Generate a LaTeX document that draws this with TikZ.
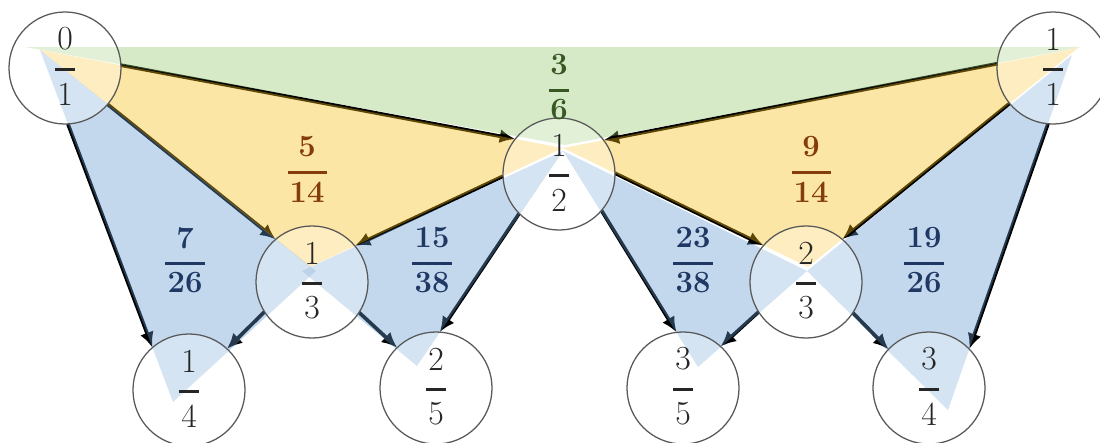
\documentclass[tikz,border=0pt]{standalone}
\usepackage{fontspec}
\usetikzlibrary{arrows.meta,intersections}
\definecolor{cBlueL}{HTML}{1F3864}
\definecolor{cBrown}{HTML}{843C0C}
\definecolor{cGrn}{HTML}{385723}
\definecolor{fBlue}{rgb}{0.39,0.60,0.82}
\definecolor{fYel}{rgb}{0.97,0.74,0.08}
\definecolor{fGrn}{rgb}{0.58,0.79,0.42}
\pgfdeclarelayer{arrlayer}
\pgfdeclarelayer{trilayer}
\pgfsetlayers{arrlayer,trilayer,main}
\tikzset{
  vert/.style={circle, minimum size=2.8cm, inner sep=0pt, draw=black!65, line width=0.9pt,
    fill=white, fill opacity=0.3, draw opacity=1},
  arr/.style={line width=2.6pt, black, -{Latex[length=11pt,width=10pt]}},
  ntext/.style={font=\fontsize{24}{28}\selectfont, text=black!85, inner sep=0pt},
  ltext/.style={font=\bfseries\fontsize{22}{26}\selectfont, inner sep=0pt},
  tri/.style={fill opacity=0.38},
  pics/nfr/.style n args={2}{code={
    \node[ntext] (-n) at (0,-29) {#1};
    \fill[black!85] (-10,-0.5) rectangle (10,2.5);
    \node[ntext] (-d) at (0,26) {#2};
  }},
  pics/lfr/.style n args={3}{code={
    \node[ltext] (-n) at (0,-25) {#1};
    \fill (-#3,-1.5) rectangle (#3,1.5);
    \node[ltext] (-d) at (0,20) {#2};
  }}
}
\newcommand\edgearr[4]{%
  \path[name path=tmpln] (#2) -- (#4);
  \draw[arr, name intersections={of=c#1 and tmpln, by=es}, name intersections={of=c#3 and tmpln, by=ee}] (es) -- (ee);}
\begin{document}
\begin{tikzpicture}[x=0.025cm,y=-0.025cm]
\useasboundingbox (0,0) rectangle (1100,442);
% nodes
\node[vert] (n01) at (65,68) {};
\node[vert] (n11) at (1053,68) {};
\node[vert] (n12) at (559,174) {};
\node[vert] (n13) at (312,282) {};
\node[vert] (n23) at (806,282) {};
\node[vert] (n14) at (189,390) {};
\node[vert] (n25) at (436,388) {};
\node[vert] (n35) at (683,388) {};
\node[vert] (n34) at (929,388) {};
\foreach \n in {01,11,12,13,23,14,25,35,34}
  \path[name path global=c\n] (n\n.center) circle[radius=1.4cm];
% node texts
\pic (t01) at (n01) {nfr={0}{1}};
\pic (t11) at (n11) {nfr={1}{1}};
\pic (t12) at (n12) {nfr={1}{2}};
\pic (t13) at (n13) {nfr={1}{3}};
\pic (t23) at (n23) {nfr={2}{3}};
\pic (t14) at (n14) {nfr={1}{4}};
\pic (t25) at (n25) {nfr={2}{5}};
\pic (t35) at (n35) {nfr={3}{5}};
\pic (t34) at (n34) {nfr={3}{4}};
% labels
\pic[color=cGrn] (l36) at (559,90) {lfr={3}{6}{10}};
\pic[color=cBrown] (l514) at (307,172) {lfr={5}{14}{19.5}};
\pic[color=cBrown] (l914) at (811,172) {lfr={9}{14}{19.5}};
\pic[color=cBlueL] (l726) at (185,263) {lfr={7}{26}{20}};
\pic[color=cBlueL] (l1538) at (432,263) {lfr={15}{38}{20}};
\pic[color=cBlueL] (l2338) at (693,263) {lfr={23}{38}{20}};
\pic[color=cBlueL] (l1926) at (924,263) {lfr={19}{26}{20}};
% vertex points
\coordinate (v0) at (40,50);
\coordinate (g0) at (25,47);
\coordinate (g1) at (1082,47);
\coordinate (g12) at (565,145);
\coordinate (v1) at (1078,48);
\coordinate (v1b) at (1072,55);
\coordinate (v12) at (563,148);
\coordinate (v12b) at (563,151);
\coordinate (v13) at (310,267);
\coordinate (v13l) at (316,271);
\coordinate (v13r) at (302,271);
\coordinate (v23) at (808,267);
\coordinate (v23b) at (807,271);
\coordinate (v14) at (173,402);
\coordinate (v25) at (417,366);
\coordinate (v35) at (698,367);
\coordinate (v34) at (948,410);
% triangles
\begin{pgfonlayer}{trilayer}
\fill[tri, fGrn] (g0) -- (g1) -- (g12) -- cycle;
\fill[tri, fYel] (v0) -- (v12) -- (v13) -- cycle;
\fill[tri, fYel] (v1) -- (v12) -- (v23) -- cycle;
\fill[tri, fBlue] (v0) -- (v13l) -- (v14) -- cycle;
\fill[tri, fBlue] (v12b) -- (v13r) -- (v25) -- cycle;
\fill[tri, fBlue] (v12b) -- (v23b) -- (v35) -- cycle;
\fill[tri, fBlue] (v1b) -- (v23b) -- (v34) -- cycle;
\end{pgfonlayer}
% arrows
\begin{pgfonlayer}{arrlayer}
\edgearr{01}{v0}{12}{v12}
\edgearr{11}{v1}{12}{v12}
\edgearr{01}{v0}{13}{v13}
\edgearr{12}{v12}{13}{v13}
\edgearr{12}{v12}{23}{v23}
\edgearr{11}{v1}{23}{v23}
\edgearr{01}{v0}{14}{v14}
\edgearr{13}{v13}{14}{v14}
\edgearr{13}{v13}{25}{v25}
\edgearr{12}{v12}{25}{v25}
\edgearr{12}{v12}{35}{v35}
\edgearr{23}{v23}{35}{v35}
\edgearr{23}{v23}{34}{v34}
\edgearr{11}{v1b}{34}{v34}
\end{pgfonlayer}
\end{tikzpicture}
\end{document}
